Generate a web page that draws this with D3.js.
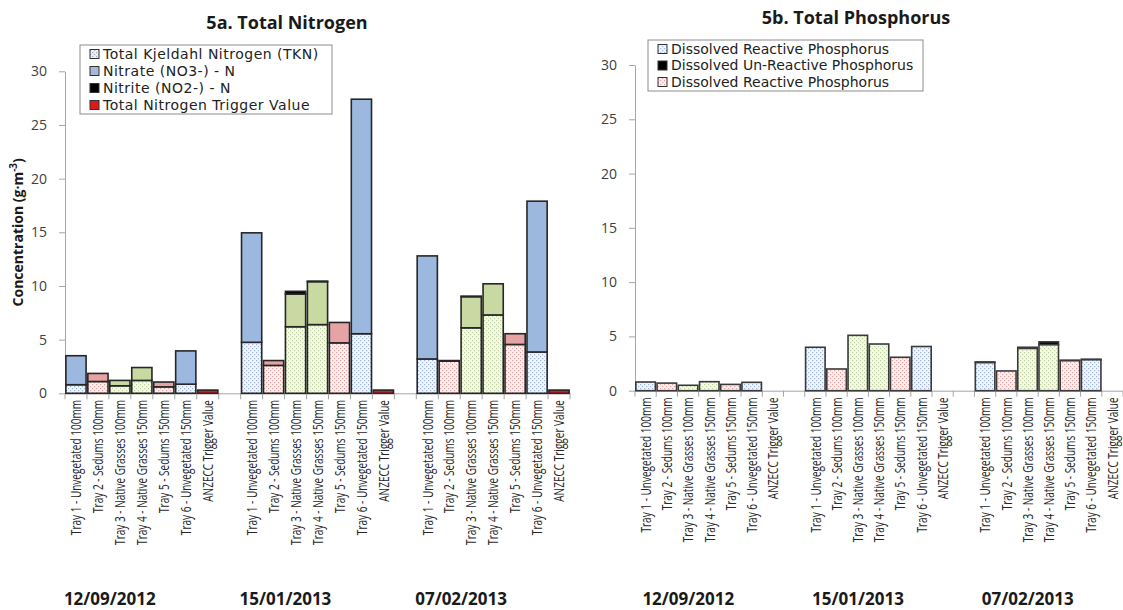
<!DOCTYPE html>
<html>
<head>
<meta charset="utf-8">
<script src="https://cdn.jsdelivr.net/npm/d3@7"></script>
<style>
  body { margin: 0; background: #fff; }
  svg { display: block; }
  .tick text { font-family: "Open Sans", sans-serif; }
</style>
</head>
<body>
<div id="chart"></div>
<script>
// categories
var dates = ["12/09/2012", "15/01/2013", "07/02/2013"];
var trays = [
  "Tray 1 - Unvegetated 100mm",
  "Tray 2 - Sedums 100mm",
  "Tray 3 - Native Grasses 100mm",
  "Tray 4 - Native Grasses 150mm",
  "Tray 5 - Sedums 150mm",
  "Tray 6 - Unvegetated 150mm",
  "ANZECC Trigger Value"
];
var trayKind = ["bare", "sedum", "grass", "grass", "sedum", "bare", "trigger"];

// 5a nitrogen, one value per date x tray (7 per date)
var tknValues     = [0.8, 1.1, 0.7, 1.2, 0.6, 0.85, 0,   4.75, 2.6, 6.2, 6.4, 4.7, 5.55, 0,   3.2, 3.0, 6.1, 7.3, 4.55, 3.85, 0];
var nitrateValues = [2.7, 0.75, 0.5, 1.2, 0.45, 3.1, 0,  10.2, 0.45, 3.05, 4.0, 1.9, 21.85, 0,  9.6, 0.05, 2.9, 2.9, 1.0, 14.05, 0];
var nitriteValues = [0, 0, 0, 0, 0, 0, 0,                0, 0, 0.25, 0.05, 0, 0, 0,         0, 0, 0.05, 0, 0, 0, 0];
var triggerValues = [0, 0, 0, 0, 0, 0, 0.3,              0, 0, 0, 0, 0, 0, 0.3,             0, 0, 0, 0, 0, 0, 0.3];

// 5b phosphorus
var drpValues = [0.8, 0.7, 0.5, 0.83, 0.58, 0.77, 0,    4.0, 2.0, 5.1, 4.3, 3.08, 4.07, 0,   2.6, 1.82, 3.9, 4.25, 2.78, 2.87, 0];
var dupValues = [0, 0, 0, 0, 0, 0, 0,                   0, 0, 0, 0, 0, 0, 0,                0.05, 0, 0.1, 0.25, 0.02, 0.02, 0];

var yTicks = [0, 5, 10, 15, 20, 25, 30];

var W = 1123, H = 610;

var svg = d3.select("#chart").append("svg")
  .attr("width", W)
  .attr("height", H);

svg.append("rect").attr("width", W).attr("height", H).attr("fill", "#fff");

// dotted fill patterns
var defs = svg.append("defs");
function dots(id, bg, dot) {
  var p = defs.append("pattern")
    .attr("id", id)
    .attr("patternUnits", "userSpaceOnUse")
    .attr("width", 4).attr("height", 4);
  p.append("rect").attr("width", 4).attr("height", 4).attr("fill", bg);
  p.append("rect").attr("x", 0).attr("y", 0).attr("width", 1.2).attr("height", 1.2).attr("fill", dot);
  p.append("rect").attr("x", 2).attr("y", 2).attr("width", 1.2).attr("height", 1.2).attr("fill", dot);
}
dots("dotBlue", "#F2F5FB", "#9FB6DC");
dots("dotPink", "#FBF0F0", "#E3A4A4");
dots("dotGreen", "#F6F9EE", "#BFD39A");
dots("dotGrey", "#ECEEF3", "#A9B1C2");

var dotFill = { bare: "url(#dotBlue)", sedum: "url(#dotPink)", grass: "url(#dotGreen)" };
var solidFill = { bare: "#9DB8DE", sedum: "#E5A3A3", grass: "#C8DAA2" };

// category keys with an empty slot between dates
var keys = [];
var rows = [];
dates.forEach(function(d, i) {
  trays.forEach(function(t, j) {
    var k = i + "|" + j;
    keys.push(k);
    rows.push({ key: k, date: i, tray: j, kind: trayKind[j], idx: i * 7 + j });
  });
  if (i < dates.length - 1) keys.push("gap" + i);
});

function drawPanel(opt) {
  var g = svg.append("g");

  var x = d3.scaleBand()
    .domain(keys)
    .range(opt.xRange)
    .paddingInner(0.08)
    .paddingOuter(0.04);

  var y = d3.scaleLinear()
    .domain([0, 30])
    .range(opt.yRange);

  // y axis
  var yAxis = d3.axisLeft(y)
    .tickValues(yTicks)
    .tickSize(6)
    .tickSizeOuter(0)
    .tickPadding(12);
  var ya = g.append("g")
    .attr("transform", "translate(" + opt.xRange[0] + ",0)")
    .call(yAxis);
  ya.select(".domain").attr("stroke", "#A6A6A6");
  ya.selectAll(".tick line").attr("stroke", "#A6A6A6");
  ya.selectAll(".tick text")
    .attr("font-size", 14)
    .attr("fill", "#404040");

  // x axis: labels at centres, ticks at slot boundaries
  var xAxis = d3.axisBottom(x)
    .tickSize(0)
    .tickSizeOuter(0)
    .tickFormat(function(k) {
      if (k.indexOf("gap") == 0) return "";
      return trays[+k.split("|")[1]];
    });
  var xa = g.append("g")
    .attr("transform", "translate(0," + y(0) + ")")
    .call(xAxis);
  xa.select(".domain").attr("stroke", "#A6A6A6");
  xa.selectAll(".tick text")
    .attr("transform", "rotate(-90) scale(0.67,1)")
    .attr("text-anchor", "end")
    .attr("x", -10)
    .attr("y", 0)
    .attr("dy", "0.35em")
    .attr("font-size", 15)
    .attr("font-family", "'DejaVu Sans Condensed', 'Open Sans', sans-serif")
    .attr("fill", "#262626");

  var step = x.step();
  var x0 = x(keys[0]) - step * x.paddingInner() / 2;
  var bounds = d3.range(keys.length + 1).map(function(i) { return x0 + i * step; });
  xa.selectAll(".bnd")
    .data(bounds)
    .enter().append("line")
    .attr("class", "bnd")
    .attr("x1", function(d) { return d; })
    .attr("x2", function(d) { return d; })
    .attr("y1", 0).attr("y2", 6)
    .attr("stroke", "#A6A6A6");

  // bars
  var bars = g.append("g");
  rows.forEach(function(r) {
    var base = 0;
    opt.series.forEach(function(s) {
      var v = s.values[r.idx];
      if (!v) return;
      bars.append("rect")
        .attr("x", x(r.key))
        .attr("width", x.bandwidth())
        .attr("y", y(base + v))
        .attr("height", y(base) - y(base + v))
        .attr("fill", s.fill(r))
        .attr("stroke", opt.barStroke)
        .attr("stroke-width", 1.6);
      base += v;
    });
  });

  // date labels under each group
  g.selectAll(".date")
    .data(dates)
    .enter().append("text")
    .attr("class", "date")
    .attr("x", function(d, i) { return x(i + "|2") + opt.dateShift; })
    .attr("y", 605)
    .attr("text-anchor", "middle")
    .attr("font-family", "'Open Sans', sans-serif")
    .attr("font-weight", "bold")
    .attr("font-size", 17)
    .attr("fill", "#1a1a1a")
    .text(function(d) { return d; });

  // title
  g.append("text")
    .attr("x", opt.titleX)
    .attr("y", opt.titleY)
    .attr("text-anchor", "middle")
    .attr("font-family", "'Open Sans', sans-serif")
    .attr("font-weight", "bold")
    .attr("font-size", 18)
    .attr("fill", "#1a1a1a")
    .text(opt.title);

  // legend
  var lg = g.append("g");
  lg.append("rect")
    .attr("x", opt.legend.x).attr("y", opt.legend.y)
    .attr("width", opt.legend.w).attr("height", opt.legend.h)
    .attr("fill", "#fff")
    .attr("stroke", "#8C8C8C");
  opt.legend.items.forEach(function(it, i) {
    var cy = opt.legend.y + opt.legend.top + i * opt.legend.row;
    lg.append("rect")
      .attr("x", opt.legend.x + 10).attr("y", cy - 4.5)
      .attr("width", 9).attr("height", 9)
      .attr("fill", it.fill)
      .attr("stroke", "#333").attr("stroke-width", 1);
    lg.append("text")
      .attr("x", opt.legend.x + 23).attr("y", cy)
      .attr("dy", "0.35em")
      .attr("font-family", "'DejaVu Sans', sans-serif")
      .attr("font-size", 14)
      .attr("letter-spacing", opt.legend.spacing)
      .attr("fill", "#222")
      .text(it.label);
  });

  return { x: x, y: y };
}

var left = drawPanel({
  xRange: [65, 570],
  yRange: [393.3, 71.3],
  barStroke: "#262626",
  dateShift: 0,
  title: "5a. Total Nitrogen",
  titleX: 287, titleY: 29,
  series: [
    { values: tknValues, fill: function(r) { return dotFill[r.kind]; } },
    { values: nitrateValues, fill: function(r) { return solidFill[r.kind]; } },
    { values: nitriteValues, fill: function() { return "#000"; } },
    { values: triggerValues, fill: function() { return "#E01818"; } }
  ],
  legend: {
    x: 80, y: 45, w: 252, h: 69, top: 9, row: 17, spacing: 0.5,
    items: [
      { label: "Total Kjeldahl Nitrogen (TKN)", fill: "url(#dotGrey)" },
      { label: "Nitrate (NO3-) - N", fill: "#A7B9D6" },
      { label: "Nitrite (NO2-) - N", fill: "#000" },
      { label: "Total Nitrogen Trigger Value", fill: "#E01818" }
    ]
  }
});

// y axis title on 5a
var yt = svg.append("text")
  .attr("transform", "translate(23," + left.y(15) + ") rotate(-90)")
  .attr("text-anchor", "middle")
  .attr("font-family", "'Open Sans', sans-serif")
  .attr("font-weight", "bold")
  .attr("font-size", 14)
  .attr("fill", "#1a1a1a");
yt.append("tspan").text("Concentration (g·m");
yt.append("tspan").attr("dy", -6).attr("font-size", 10).text("-3");
yt.append("tspan").attr("dy", 6).text(")");

drawPanel({
  xRange: [635, 1123],
  yRange: [390.7, 65],
  barStroke: "#3a3a3a",
  dateShift: 10,
  title: "5b. Total Phosphorus",
  titleX: 856, titleY: 24,
  series: [
    { values: drpValues, fill: function(r) { return dotFill[r.kind]; } },
    { values: dupValues, fill: function() { return "#000"; } }
  ],
  legend: {
    x: 648, y: 40, w: 275, h: 51, top: 9, row: 16.5, spacing: 0,
    items: [
      { label: "Dissolved Reactive Phosphorus", fill: "url(#dotBlue)" },
      { label: "Dissolved Un-Reactive Phosphorus", fill: "#000" },
      { label: "Dissolved Reactive Phosphorus", fill: "url(#dotPink)" }
    ]
  }
});
</script>
</body>
</html>
